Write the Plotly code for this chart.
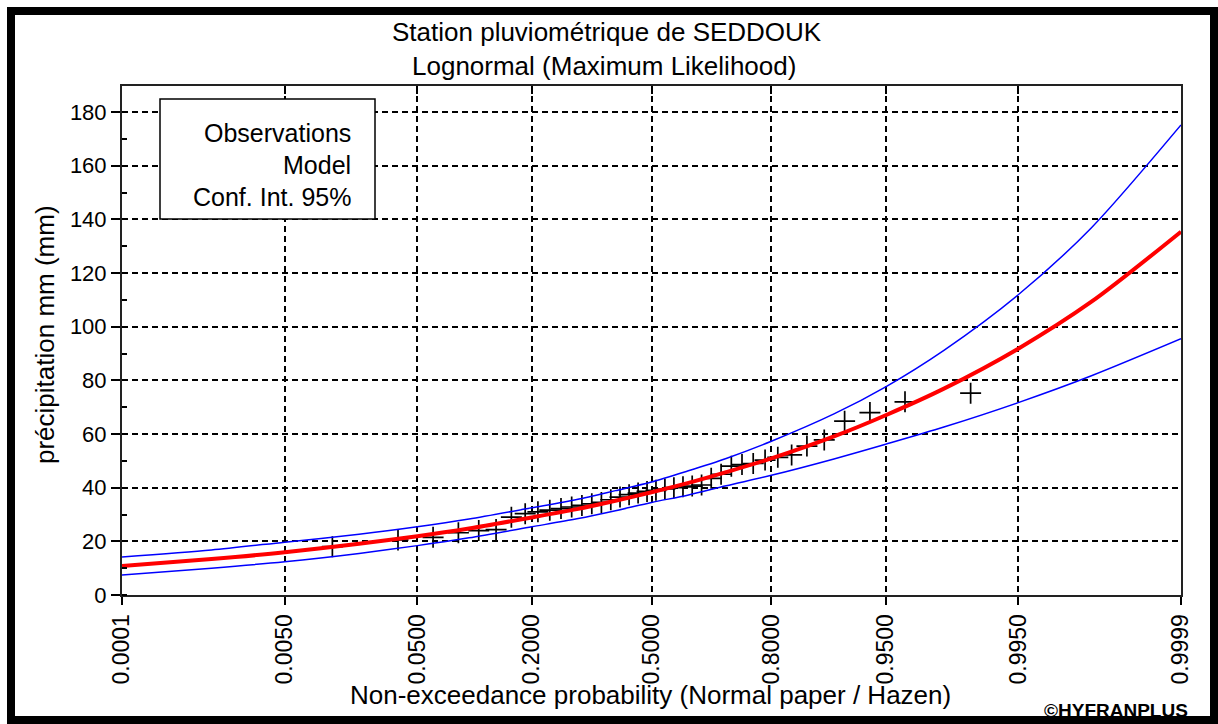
import plotly.graph_objects as go
from statistics import NormalDist

# ---------------- data ----------------
# Observed precipitation (mm), sorted ascending, plotted at Hazen positions
obs_mm = [18.0, 20.5, 21.5, 23.2, 24.0, 24.4, 29.0, 30.3, 31.0, 31.6,
          32.2, 32.8, 33.4, 34.0, 34.5, 35.5, 36.5, 37.4, 38.0, 38.6,
          39.0, 39.5, 40.0, 40.3, 40.6, 41.0, 43.5, 45.0, 48.0, 48.6,
          49.0, 50.3, 51.3, 52.2, 55.5, 57.8, 64.8, 68.0, 72.0, 75.2]

# Model curve and 95 % confidence interval read at these probabilities
curve_p = [0.0001, 0.001, 0.005, 0.02, 0.05, 0.1, 0.2, 0.3, 0.4, 0.5,
           0.6, 0.7, 0.8, 0.9, 0.95, 0.98, 0.995, 0.999, 0.9999]
model_mm = [10.8, 13.4, 15.9, 19.1, 21.9, 24.8, 28.9, 32.0, 35.1, 38.3,
            41.7, 45.8, 50.9, 59.1, 67.0, 76.9, 91.8, 109.3, 135.4]
ci_upper = [14.2, 16.8, 19.7, 22.6, 25.4, 28.3, 32.5, 35.6, 38.9, 42.1,
            46.2, 50.9, 57.3, 67.5, 77.6, 91.2, 111.9, 136.9, 175.2]
ci_lower = [7.5, 10.0, 12.4, 15.5, 18.4, 21.3, 25.4, 28.4, 31.4, 34.5,
            37.2, 40.7, 44.6, 50.7, 56.2, 62.6, 71.7, 81.7, 95.5]

tick_p = [0.0001, 0.005, 0.05, 0.2, 0.5, 0.8, 0.95, 0.995, 0.9999]
tick_labels = ["0.0001", "0.0050", "0.0500", "0.2000", "0.5000",
               "0.8000", "0.9500", "0.9950", "0.9999"]

title_1 = "Station pluviométrique de SEDDOUK"
title_2 = "Lognormal (Maximum Likelihood)"
legend_texts = ["Observations", "Model", "Conf. Int. 95%"]
x_title = "Non-exceedance probability (Normal paper / Hazen)"
y_title = "précipitation mm (mm)"
credit = "©HYFRANPLUS"

# ---------------- normal-probability scale ----------------
nd = NormalDist()
def zq(p):
    return nd.inv_cdf(p)

n = len(obs_mm)
obs_z = [zq((i - 0.5) / n) for i in range(1, n + 1)]
curve_z = [zq(p) for p in curve_p]
tick_z = [zq(p) for p in tick_p]
x_range = [zq(0.0001), zq(0.9999)]

FONT = "Liberation Sans, Arial, sans-serif"

fig = go.Figure()

fig.add_trace(go.Scatter(
    x=obs_z, y=obs_mm, mode="markers",
    marker=dict(symbol="cross-thin", size=15, color="black",
                line=dict(color="black", width=1.7)),
    showlegend=False, hoverinfo="skip"))

fig.add_trace(go.Scatter(
    x=curve_z, y=ci_upper, mode="lines", line=dict(color="#0000ff", width=1.5, shape="spline", smoothing=0.8),
    showlegend=False, hoverinfo="skip"))
fig.add_trace(go.Scatter(
    x=curve_z, y=ci_lower, mode="lines", line=dict(color="#0000ff", width=1.5, shape="spline", smoothing=0.8),
    showlegend=False, hoverinfo="skip"))
fig.add_trace(go.Scatter(
    x=curve_z, y=model_mm, mode="lines", line=dict(color="#ff0000", width=4, shape="spline", smoothing=0.8),
    showlegend=False, hoverinfo="skip"))

# dummy trace so the top (tick-only) axis is drawn
fig.add_trace(go.Scatter(x=[0], y=[None], xaxis="x2", mode="markers",
                         showlegend=False, hoverinfo="skip"))

L, R, T, B = 122, 37, 86, 129
W, H = 1218, 724
pw, ph = W - L - R, H - T - B

def px(x):
    return (x - L) / pw

def py(y):
    return (H - B - y) / ph

grid = dict(showgrid=True, gridcolor="black", griddash="6px,4px", gridwidth=2)

fig.update_layout(
    width=W, height=H,
    margin=dict(l=L, r=R, t=T, b=B),
    paper_bgcolor="white", plot_bgcolor="white",
    font=dict(family=FONT, color="black"),
    xaxis=dict(range=x_range, tickvals=tick_z, ticktext=tick_labels,
               tickangle=-90, ticks="outside", ticklen=8, tickwidth=1.5,
               tickcolor="black", showline=True, linecolor="#222",
               linewidth=2, mirror=True, zeroline=False,
               tickfont=dict(size=23, color="black"), **grid),
    xaxis2=dict(overlaying="x", side="top", matches="x", tickvals=tick_z,
                showticklabels=False, ticks="inside", ticklen=8,
                tickwidth=1.5, tickcolor="black", showgrid=False,
                showline=False, zeroline=False),
    yaxis=dict(range=[0, 189.7], tick0=0, dtick=20, ticks="outside",
               ticklen=9, tickwidth=1.5, tickcolor="black",
               showline=True, linecolor="#222", linewidth=2, mirror=True,
               zeroline=False, tickfont=dict(size=22, color="black"),
               minor=dict(tick0=0, dtick=10, ticks="inside", ticklen=5,
                          tickwidth=1.5, tickcolor="black", showgrid=False),
               **grid),
    showlegend=False,
)

shapes = [
    # legend box
    dict(type="rect", xref="paper", yref="paper",
         x0=px(160), x1=px(375), y0=py(219), y1=py(99),
         fillcolor="white", line=dict(color="black", width=1.5), layer="above"),
    # outer frame
    dict(type="rect", xref="paper", yref="paper",
         x0=px(11), x1=px(1214), y0=py(720), y1=py(11),
         line=dict(color="black", width=8), fillcolor="rgba(0,0,0,0)", layer="above"),
]
fig.update_layout(shapes=shapes)

ann = []
ann.append(dict(text=title_1, x=px(607), y=py(32), xref="paper", yref="paper",
                showarrow=False, xanchor="center", yanchor="middle",
                font=dict(size=26, family=FONT, color="black")))
ann.append(dict(text=title_2, x=px(604), y=py(66), xref="paper", yref="paper",
                showarrow=False, xanchor="center", yanchor="middle",
                font=dict(size=26, family=FONT, color="black")))
for t, yy in zip(legend_texts, [133, 165, 197]):
    ann.append(dict(text=t, x=px(353), y=py(yy), xref="paper", yref="paper",
                    showarrow=False, xanchor="right", yanchor="middle",
                    font=dict(size=25, family=FONT, color="black")))
ann.append(dict(text=x_title, x=px(650), y=py(695), xref="paper", yref="paper",
                showarrow=False, xanchor="center", yanchor="middle",
                font=dict(size=26, family=FONT, color="black")))
ann.append(dict(text=y_title, x=px(45), y=py(335), xref="paper", yref="paper",
                showarrow=False, xanchor="center", yanchor="middle", textangle=-90,
                font=dict(size=26, family=FONT, color="black")))
ann.append(dict(text="<b>" + credit + "</b>", x=px(1190), y=py(710), xref="paper", yref="paper",
                showarrow=False, xanchor="right", yanchor="middle",
                font=dict(size=19, family=FONT, color="black")))
fig.update_layout(annotations=ann)

fig.write_html("out.html")
